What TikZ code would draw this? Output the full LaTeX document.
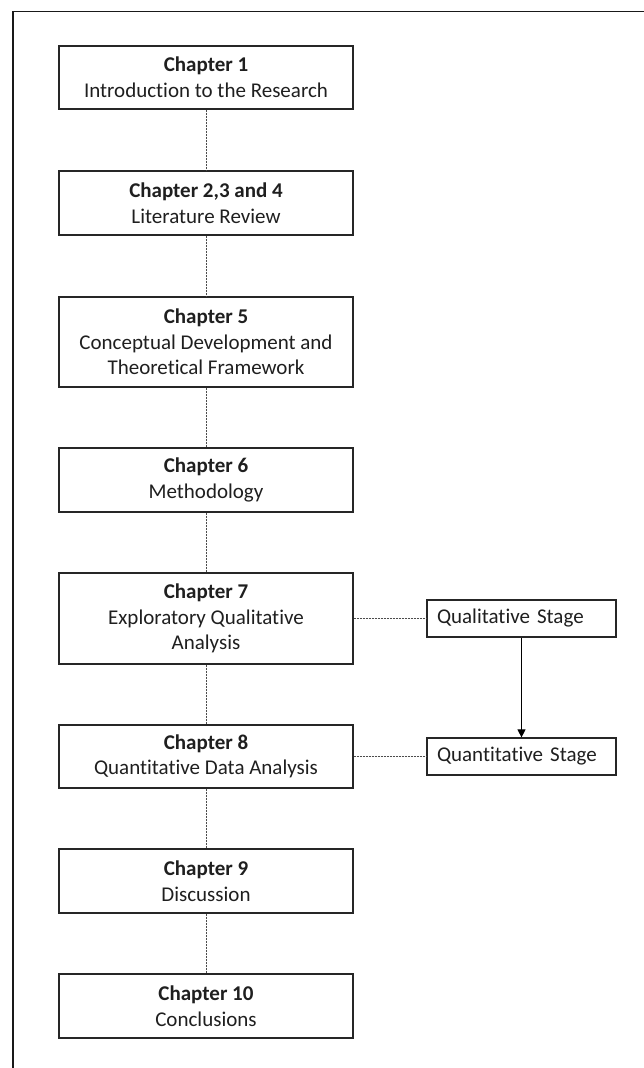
\documentclass[tikz,border=0pt]{standalone}
\usepackage{fontspec}
\setmainfont{Carlito}[Ligatures=NoCommon]
\usetikzlibrary{arrows.meta}

\tikzset{
  chapbox/.style={draw=black!85, line width=1.2bp, fill=white, text=black!88,
    minimum width=294bp, align=center, inner sep=0pt,
    font=\fontsize{21bp}{25.6bp}\selectfont},
  stagebox/.style={draw=black!85, line width=1.2bp, fill=white, text=black!88,
    text width=169bp, inner xsep=10bp, inner ysep=0pt, minimum height=37bp,
    align=left, font=\fontsize{21bp}{25.6bp}\selectfont},
  link/.style={draw=black!70, line width=0.8bp, dash pattern=on 2bp off 1bp},
  flow/.style={draw=black, line width=1bp, -{Triangle[length=8bp,width=8bp]}}
}

\begin{document}
\begin{tikzpicture}[x=1bp, y=-1bp]
  \useasboundingbox (0,0) rectangle (644,1068);

  % outer frame (top and left edges)
  \draw[line width=1.5bp, black!90] (644,11.5) -- (13,11.5) -- (13,1068);

  % chapter boxes
  \node[chapbox, minimum height=63bp] (c1)  at (206,77.5)  {\textbf{Chapter 1}\\Introduction to the Research};
  \node[chapbox, minimum height=64bp] (c2)  at (206,203)   {\textbf{Chapter 2,3 and 4}\\Literature Review};
  \node[chapbox, minimum height=90bp] (c5)  at (206,342)   {\textbf{Chapter 5}\\Conceptual Development and\\Theoretical Framework};
  \node[chapbox, minimum height=64bp] (c6)  at (206,480)   {\textbf{Chapter 6}\\Methodology};
  \node[chapbox, minimum height=91bp] (c7)  at (206,618.5) {\textbf{Chapter 7}\\Exploratory Qualitative\\Analysis};
  \node[chapbox, minimum height=63bp] (c8)  at (206,756.5) {\textbf{Chapter 8}\\Quantitative Data Analysis};
  \node[chapbox, minimum height=64bp] (c9)  at (206,881)   {\textbf{Chapter 9}\\Discussion};
  \node[chapbox, minimum height=64bp] (c10) at (206,1006)  {\textbf{Chapter 10}\\Conclusions};

  % stage boxes
  \node[stagebox] (qual)  at (521.5,618.5) {Qualitative Stage};
  \node[stagebox] (quant) at (521.5,756.5) {Quantitative Stage};

  % dashed links between chapters
  \draw[link] (c1.south) -- (c2.north);
  \draw[link] (c2.south) -- (c5.north);
  \draw[link] (c5.south) -- (c6.north);
  \draw[link] (c6.south) -- (c7.north);
  \draw[link] (c7.south) -- (c8.north);
  \draw[link] (c8.south) -- (c9.north);
  \draw[link] (c9.south) -- (c10.north);

  % links to the stages
  \draw[link] (c7.east) -- (qual.west);
  \draw[link] (c8.east) -- (quant.west);
  \draw[flow] (qual.south) -- (quant.north);
\end{tikzpicture}
\end{document}
